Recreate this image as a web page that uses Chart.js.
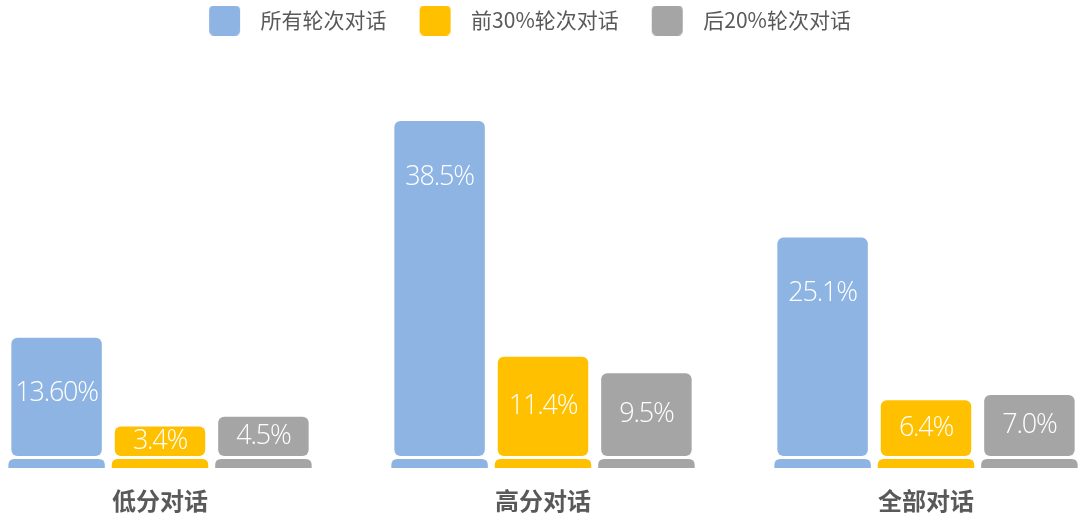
<!DOCTYPE html>
<html>
<head>
<meta charset="utf-8">
<script src="https://cdn.jsdelivr.net/npm/chart.js@4/dist/chart.umd.min.js"></script>
<style>
  html, body { margin: 0; padding: 0; background: #ffffff; }
  #wrap { width: 1080px; height: 529px; position: relative; }
</style>
</head>
<body>
<div id="wrap"><canvas id="c"></canvas></div>
<script>
// ---- data ----
const categories = ['低分对话', '高分对话', '全部对话'];
const seriesNames = ['所有轮次对话', '前30%轮次对话', '后20%轮次对话'];
const allTurns = [13.6, 38.5, 25.1];
const top30 = [3.4, 11.4, 6.4];
const bottom20 = [4.5, 9.5, 7.0];
const allTurnsLabels = ['13.60%', '38.5%', '25.1%'];
const top30Labels = ['3.4%', '11.4%', '6.4%'];
const bottom20Labels = ['4.5%', '9.5%', '7.0%'];
const colors = ['#8EB4E3', '#FFC000', '#A5A5A5'];

const FONT = '"Noto Sans CJK SC", "Noto Sans", sans-serif';

function roundRectPath(ctx, x, y, w, h, rTop, rBottom) {
  ctx.beginPath();
  ctx.moveTo(x + rTop, y);
  ctx.lineTo(x + w - rTop, y);
  ctx.quadraticCurveTo(x + w, y, x + w, y + rTop);
  ctx.lineTo(x + w, y + h - rBottom);
  ctx.quadraticCurveTo(x + w, y + h, x + w - rBottom, y + h);
  ctx.lineTo(x + rBottom, y + h);
  ctx.quadraticCurveTo(x, y + h, x, y + h - rBottom);
  ctx.lineTo(x, y + rTop);
  ctx.quadraticCurveTo(x, y, x + rTop, y);
  ctx.closePath();
}

// legend icons: rounded squares with leading space (item gap) and trailing space (text gap)
const legendIcons = colors.map(col => {
  const cv = document.createElement('canvas');
  cv.width = 64; cv.height = 30;
  const g = cv.getContext('2d');
  g.fillStyle = col;
  roundRectPath(g, 23, 0, 31, 30, 5, 5);
  g.fill();
  return cv;
});

const pedestalPlugin = {
  id: 'pedestal',
  beforeDatasetsDraw(chart) {
    const ctx = chart.ctx;
    const base = chart.scales.y.getPixelForValue(0);
    chart.data.datasets.forEach((ds, di) => {
      const meta = chart.getDatasetMeta(di);
      meta.data.forEach(el => {
        const w = el.width + 6;
        ctx.save();
        ctx.fillStyle = ds.backgroundColor;
        roundRectPath(ctx, el.x - w / 2, base + 3, w, 9, 6, 0);
        ctx.fill();
        ctx.restore();
      });
    });
  }
};

const valueLabelPlugin = {
  id: 'valueLabels',
  afterDatasetsDraw(chart) {
    const ctx = chart.ctx;
    chart.data.datasets.forEach((ds, di) => {
      const meta = chart.getDatasetMeta(di);
      meta.data.forEach((el, i) => {
        const h = el.base - el.y;
        const ty = el.y + Math.min(h / 2, 56);
        ctx.save();
        ctx.fillStyle = '#ffffff';
        ctx.font = '300 27px "Open Sans", "Noto Sans", sans-serif';
        try { ctx.letterSpacing = '-1.2px'; } catch (e) {}
        ctx.textAlign = 'center';
        ctx.textBaseline = 'middle';
        ctx.fillText(ds.valueLabels[i], el.x, ty);
        ctx.restore();
      });
    });
  }
};

const values = [allTurns, top30, bottom20];
const labelSets = [allTurnsLabels, top30Labels, bottom20Labels];

new Chart(document.getElementById('c'), {
  type: 'bar',
  data: {
    labels: categories,
    datasets: seriesNames.map((name, i) => ({
      label: name,
      data: values[i],
      valueLabels: labelSets[i],
      backgroundColor: colors[i],
      borderWidth: 0,
      borderRadius: 6,
      borderSkipped: false,
      categoryPercentage: 0.81,
      barPercentage: 0.875,
      clip: false
    }))
  },
  options: {
    responsive: true,
    maintainAspectRatio: false,
    animation: false,
    layout: { padding: { left: 0, right: 43, top: 0, bottom: 14 } },
    plugins: {
      tooltip: { enabled: false },
      legend: {
        position: 'top',
        labels: {
          usePointStyle: true,
          pointStyleWidth: 64,
          padding: 10,
          color: '#595959',
          font: { family: FONT, size: 21 },
          generateLabels(chart) {
            const items = Chart.defaults.plugins.legend.labels.generateLabels(chart);
            items.forEach((it, i) => { it.pointStyle = legendIcons[i]; it.fontColor = '#595959'; });
            return items;
          }
        }
      }
    },
    scales: {
      x: {
        offset: false,
        grid: { display: false, drawTicks: false },
        border: { display: false },
        ticks: {
          padding: 30,
          color: '#595959',
          font: { family: FONT, size: 24, weight: 'bold' }
        },
        afterFit(scale) { scale.height = 59; }
      },
      y: {
        position: 'left',
        min: 0,
        max: 47.7,
        grid: { display: false, drawTicks: false },
        border: { display: false },
        ticks: { display: false },
        afterFit(scale) { scale.width = 160; }
      },
      yRight: {
        position: 'right',
        min: 0,
        max: 47.7,
        grid: { display: false, drawTicks: false },
        border: { display: false },
        ticks: { display: false },
        afterFit(scale) { scale.width = 111; }
      }
    }
  },
  plugins: [pedestalPlugin, valueLabelPlugin]
});
</script>
</body>
</html>
